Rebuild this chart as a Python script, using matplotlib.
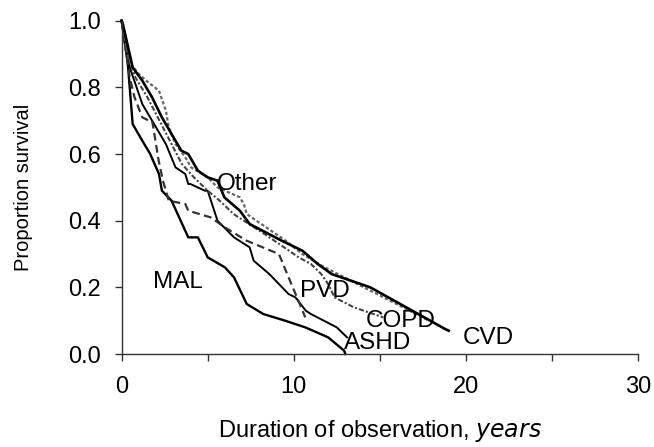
import matplotlib
matplotlib.use("Agg")
import matplotlib.pyplot as plt
from matplotlib.ticker import MultipleLocator, FormatStrFormatter

plt.rcParams['font.family'] = ['Liberation Sans', 'DejaVu Sans']

# Survival curves (years, proportion surviving)
mal_x = [0, 0.36, 0.64, 1.2, 1.66, 2.17, 2.34, 2.9, 3.87, 4.43, 5.0, 6.0, 6.53, 7.27, 8.23, 9.5, 10.67, 12.0, 12.93, 13.0]
mal_y = [1.0, 0.87, 0.69, 0.64, 0.60, 0.54, 0.49, 0.46, 0.35, 0.35, 0.29, 0.26, 0.23, 0.15, 0.12, 0.10, 0.08, 0.05, 0.01, 0.0]

ashd_x = [0, 0.2, 0.47, 1.2, 1.77, 2.57, 3.13, 3.7, 3.87, 4.0, 4.83, 5.0, 5.57, 6.53, 7.44, 7.67, 8.58, 9.7, 10.1, 10.7, 11.0, 12.5, 13.1]
ashd_y = [1.0, 0.93, 0.86, 0.75, 0.70, 0.63, 0.56, 0.54, 0.51, 0.51, 0.49, 0.49, 0.40, 0.35, 0.32, 0.28, 0.24, 0.18, 0.17, 0.13, 0.12, 0.08, 0.05]

pvd_x = [0, 0.08, 0.47, 0.75, 1.2, 1.59, 1.77, 1.87, 2.15, 2.4, 2.74, 3.7, 3.87, 5.17, 6.0, 7.26, 8.2, 9.14, 9.7, 10.27, 10.67]
pvd_y = [1.0, 0.97, 0.83, 0.77, 0.71, 0.70, 0.70, 0.67, 0.58, 0.52, 0.46, 0.45, 0.43, 0.41, 0.38, 0.34, 0.32, 0.30, 0.23, 0.16, 0.11]

cvd_x = [0, 0.07, 0.64, 1.2, 1.77, 2.34, 2.9, 3.47, 3.87, 4.43, 5.0, 5.57, 5.97, 6.87, 7.44, 9.3, 10.5, 11.4, 12.2, 14.45, 18.8, 19.0]
cvd_y = [1.0, 0.99, 0.86, 0.82, 0.77, 0.71, 0.66, 0.61, 0.60, 0.55, 0.53, 0.52, 0.47, 0.43, 0.39, 0.34, 0.31, 0.27, 0.24, 0.20, 0.075, 0.07]

copd_x = [0, 0.3, 0.8, 1.5, 2.2, 2.9, 3.5, 4.2, 5.0, 5.7, 6.5, 7.4, 8.3, 9.16, 10.29, 11.0, 11.6, 12.0, 12.37, 13.5, 15.2]
copd_y = [1.0, 0.90, 0.83, 0.77, 0.70, 0.63, 0.57, 0.53, 0.49, 0.46, 0.42, 0.39, 0.36, 0.33, 0.29, 0.27, 0.24, 0.21, 0.17, 0.14, 0.11]

other_x = [0, 0.2, 0.53, 1.0, 1.43, 2.17, 2.57, 2.74, 3.13, 3.7, 4.04, 5.0, 5.57, 6.87, 7.1, 7.27, 8.4, 9.53, 10.5, 11.8, 14.46, 17.86]
other_y = [1.0, 0.95, 0.87, 0.84, 0.82, 0.79, 0.73, 0.68, 0.63, 0.59, 0.56, 0.53, 0.50, 0.47, 0.45, 0.42, 0.38, 0.34, 0.30, 0.26, 0.19, 0.10]

# curve labels and where they sit
label_names = ['Other', 'MAL', 'PVD', 'COPD', 'CVD', 'ASHD']
label_x = [7.3, 3.3, 11.8, 16.2, 21.3, 14.9]
label_y = [0.51, 0.216, 0.19, 0.098, 0.048, 0.033]

fig = plt.figure(figsize=(6.54, 4.47), dpi=100)
ax = fig.add_axes([0.186, 0.208, 0.7894, 0.7457])

ax.plot(mal_x, mal_y, color='black', lw=1.7, clip_on=False)
ax.plot(ashd_x, ashd_y, color='black', lw=1.4, clip_on=False)
ax.plot(pvd_x, pvd_y, color='#333333', lw=1.6, linestyle=(0, (3.5, 2)), clip_on=False)
ax.plot(copd_x, copd_y, color='#444444', lw=1.5, linestyle=(0, (2.5, 1, 1, 1)), clip_on=False)
ax.plot(other_x, other_y, color='#666666', lw=1.6, linestyle=(0, (1.5, 1)), clip_on=False)
ax.plot(cvd_x, cvd_y, color='black', lw=1.9, clip_on=False)

for name, tx, ty in zip(label_names, label_x, label_y):
    ax.text(tx, ty, name, fontsize=17.5, ha='center', va='center', color='black')

ax.set_xlim(0, 30)
ax.set_ylim(0, 1.0)
ax.xaxis.set_major_locator(MultipleLocator(10))
ax.xaxis.set_minor_locator(MultipleLocator(5))
ax.yaxis.set_major_locator(MultipleLocator(0.2))
ax.yaxis.set_major_formatter(FormatStrFormatter('%.1f'))
ax.tick_params(axis='both', which='both', direction='out', length=5, width=1, labelsize=17, color='#333333')
ax.tick_params(axis='y', pad=10)
ax.tick_params(axis='x', pad=11)

for s in ['top', 'right']:
    ax.spines[s].set_visible(False)
for s in ['left', 'bottom']:
    ax.spines[s].set_color('#333333')
    ax.spines[s].set_linewidth(1)

ax.set_ylabel('Proportion survival', fontsize=14.5, labelpad=25)
ax.set_xlabel('Duration of observation, $\\it{years}$', fontsize=17, labelpad=14)

fig.savefig('out.png', dpi=100)
